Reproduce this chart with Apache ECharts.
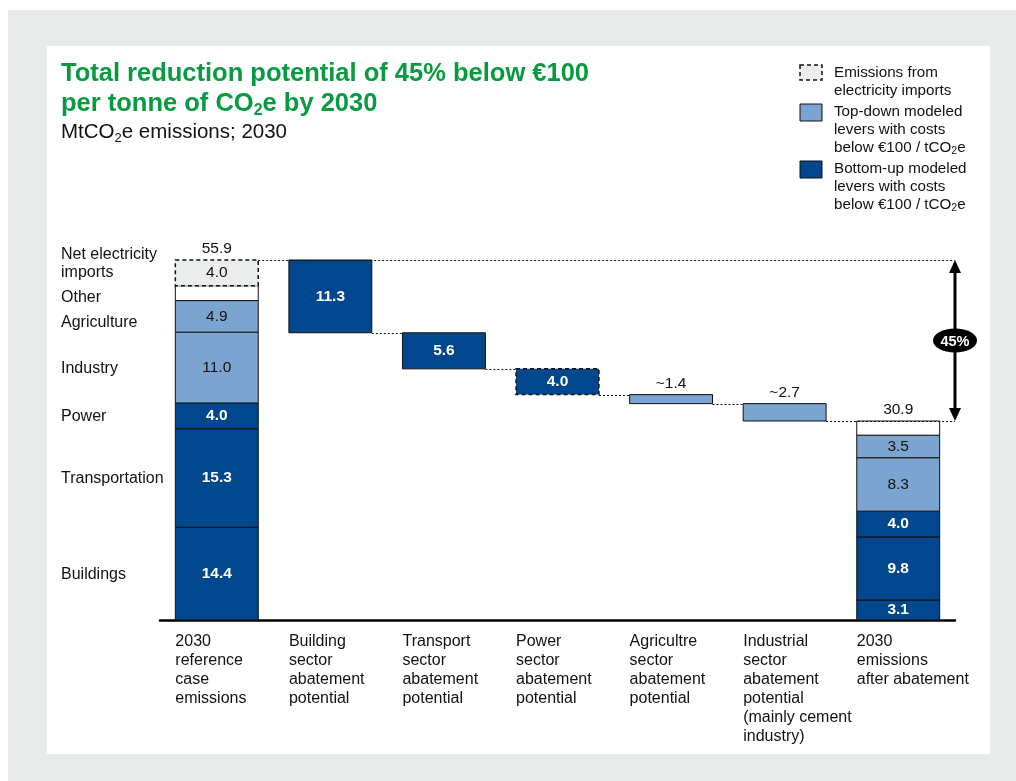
<!DOCTYPE html>
<html><head><meta charset="utf-8">
<script src="https://cdn.jsdelivr.net/npm/echarts@6/dist/echarts.min.js"></script>
<style>html,body{margin:0;padding:0;background:#fff;}#chart{width:1016px;height:781px;}</style>
</head><body><div id="chart"></div>
<script>
// ---------- DATA ----------
const categories = [
  '2030\nreference\ncase\nemissions',
  'Building\nsector\nabatement\npotential',
  'Transport\nsector\nabatement\npotential',
  'Power\nsector\nabatement\npotential',
  'Agricultre\nsector\nabatement\npotential',
  'Industrial\nsector\nabatement\npotential\n(mainly cement\nindustry)',
  '2030\nemissions\nafter abatement'
];
const sectorNames = ['Buildings', 'Transportation', 'Power', 'Industry', 'Agriculture', 'Other', 'Net electricity\nimports'];
const refValues = [14.4, 15.3, 4.0, 11.0, 4.9, 2.3, 4.0];
const refLabels = ['14.4', '15.3', '4.0', '11.0', '4.9', '', '4.0'];
const refKinds = ['bottomUp', 'bottomUp', 'bottomUp', 'topDown', 'topDown', 'other', 'imports'];
const refTotal = 55.9;
const abateValues = [11.3, 5.6, 4.0, 1.4, 2.7];
const abateLabels = ['11.3', '5.6', '4.0', '~1.4', '~2.7'];
const abateKinds = ['bottomUp', 'bottomUp', 'importsAbated', 'topDown', 'topDown'];
const finalValues = [3.1, 9.8, 4.0, 8.3, 3.5, 2.2];
const finalLabels = ['3.1', '9.8', '4.0', '8.3', '3.5', ''];
const finalKinds = ['bottomUp', 'bottomUp', 'bottomUp', 'topDown', 'topDown', 'other'];
const finalTotal = 30.9;
const reductionLabel = '45%';
const legendNames = ['Emissions from\nelectricity imports', 'Top-down modeled\nlevers with costs\nbelow €100 / tCO{s|2}e', 'Bottom-up modeled\nlevers with costs\nbelow €100 / tCO{s|2}e'];
const legendKinds = ['imports', 'topDown', 'bottomUp'];

// ---------- STYLE ----------
const FONT = '"Liberation Sans", Arial, sans-serif';
const DARK = '#00478e', LIGHT = '#7ba4d0', GREEN = '#079a3f';
const kindStyle = {
  bottomUp: {fill: DARK, stroke: '#111', dash: null, lw: 1, text: '#fff', weight: 'bold'},
  topDown: {fill: LIGHT, stroke: '#111', dash: null, lw: 1, text: '#111', weight: 'normal'},
  other: {fill: '#fff', stroke: '#111', dash: null, lw: 1, text: '#111', weight: 'normal'},
  imports: {fill: '#ebecec', stroke: '#111', dash: [4, 3], lw: 1.5, text: '#111', weight: 'normal'},
  importsAbated: {fill: DARK, stroke: '#111', dash: [4, 3], lw: 1.5, text: '#fff', weight: 'bold'}
};
const sectorLabelNudge = [1, 1, 1, 1, 6, 4, -9];
const BAR_RATIO = 0.73;

// ---------- BUILD MARKS ----------
const bars = [];
let acc = 0;
refValues.forEach((v, i) => { bars.push({cat: 0, low: acc, high: acc + v, kind: refKinds[i], label: refLabels[i]}); acc += v; });
let level = refTotal;
const connectors = [{from: 0, to: 'end', y: refTotal}];
abateValues.forEach((v, i) => {
  bars.push({cat: i + 1, low: level - v, high: level, kind: abateKinds[i], label: abateLabels[i]});
  level -= v;
  if (i < abateValues.length - 1) connectors.push({from: i + 1, to: i + 2, y: level});
});
connectors.push({from: abateValues.length, to: 'end', y: finalTotal});
acc = 0;
const lastCat = categories.length - 1;
finalValues.forEach((v, i) => { bars.push({cat: lastCat, low: acc, high: acc + v, kind: finalKinds[i], label: finalLabels[i]}); acc += v; });
const totals = [{cat: 0, value: refTotal}, {cat: lastCat, value: finalTotal}];

const sectorMarks = [];
acc = 0;
refValues.forEach((v, i) => { sectorMarks.push({name: sectorNames[i], y: acc + v / 2, nudge: sectorLabelNudge[i]}); acc += v; });

function barWidth(api) { return api.size([1, 0])[0] * BAR_RATIO; }

const option = {
  backgroundColor: '#fff',
  animation: false,
  grid: {left: 160, right: 61, top: 620 - 60 * 360 / 55.9, bottom: 161, outerBoundsMode: 'none'},
  xAxis: {
    type: 'category', data: categories,
    axisLine: {lineStyle: {color: '#000', width: 2.5}},
    axisTick: {show: false}, axisLabel: {show: false}, splitLine: {show: false}
  },
  yAxis: {type: 'value', min: 0, max: 60, show: false, splitLine: {show: false}},
  graphic: [
    {type: 'rect', z: -10, shape: {x: 8, y: 10, width: 1008, height: 771}, style: {fill: '#e9eaea'}},
    {type: 'rect', z: -9, shape: {x: 47, y: 46, width: 943, height: 708}, style: {fill: '#fff'}},
    {type: 'text', left: 61, top: 59, style: {
      text: 'Total reduction potential of 45% below €100\nper tonne of CO{s|2}e by 2030',
      fontFamily: FONT, fontSize: 25.5, fontWeight: 'bold', fill: GREEN, lineHeight: 30,
      rich: {s: {fontFamily: FONT, fontSize: 16, fontWeight: 'bold', fill: GREEN, lineHeight: 16, verticalAlign: 'bottom'}}
    }},
    {type: 'text', left: 61, top: 120, style: {
      text: 'MtCO{s|2}e emissions; 2030',
      fontFamily: FONT, fontSize: 20.5, fill: '#111', lineHeight: 25,
      rich: {s: {fontFamily: FONT, fontSize: 13, fill: '#111', lineHeight: 13, verticalAlign: 'bottom'}}
    }}
  ].concat(legendNames.flatMap((name, i) => {
    const st = kindStyle[legendKinds[i]];
    const ys = [65, 104, 161];
    return [
      {type: 'rect', shape: {x: 800, y: ys[i], width: 22, height: i === 0 ? 15 : 17},
        style: {fill: st.fill, stroke: '#111', lineWidth: i === 0 ? 1.5 : 1, lineDash: st.dash}},
      {type: 'text', left: 834, top: ys[i] - 1, style: {
        text: name, fontFamily: FONT, fontSize: 15.2, fill: '#111', lineHeight: 18,
        rich: {s: {fontFamily: FONT, fontSize: 10.5, fill: '#111', lineHeight: 13, verticalAlign: 'bottom'}}
      }}
    ];
  })),
  series: [
    {
      type: 'custom', name: 'bars', clip: false,
      encode: {x: 0, y: [1, 2]},
      data: bars.map(b => [b.cat, b.low, b.high]),
      renderItem: function (params, api) {
        const b = bars[params.dataIndex];
        const w = barWidth(api);
        const p0 = api.coord([b.cat, b.high]);
        const p1 = api.coord([b.cat, b.low]);
        const st = kindStyle[b.kind];
        const h = p1[1] - p0[1];
        const children = [{type: 'rect', shape: {x: p0[0] - w / 2, y: p0[1], width: w, height: h},
          style: {fill: st.fill, stroke: st.stroke, lineWidth: st.lw, lineDash: st.dash}}];
        if (b.label) {
          const inside = h >= 19;
          children.push({type: 'text', style: {
            text: b.label, x: p0[0], y: inside ? p0[1] + h / 2 : p0[1] - 3,
            align: 'center', verticalAlign: inside ? 'middle' : 'bottom',
            fill: inside ? st.text : '#111', fontWeight: inside ? st.weight : 'normal',
            fontFamily: FONT, fontSize: 15.5
          }});
        }
        return {type: 'group', children: children};
      }
    },
    {
      type: 'custom', name: 'connectors', clip: false, z: 3,
      encode: {x: 0, y: 1},
      data: connectors.map(c => [c.from, c.y]),
      renderItem: function (params, api) {
        const c = connectors[params.dataIndex];
        const w = barWidth(api);
        const band = api.size([1, 0])[0];
        const p = api.coord([c.from, c.y]);
        const x2 = c.to === 'end' ? api.coord([lastCat, c.y])[0] + band / 2 : api.coord([c.to, c.y])[0] - w / 2;
        const y = Math.round(p[1]) + 0.5;
        return {type: 'line', shape: {x1: p[0] + w / 2, y1: y, x2: x2, y2: y},
          style: {stroke: '#111', lineWidth: 1, lineDash: [2, 2]}};
      }
    },
    {
      type: 'custom', name: 'totals', clip: false,
      encode: {x: 0, y: 1},
      data: totals.map(t => [t.cat, t.value]),
      renderItem: function (params, api) {
        const t = totals[params.dataIndex];
        const p = api.coord([t.cat, t.value]);
        return {type: 'text', style: {text: t.value.toFixed(1), x: p[0], y: p[1] - 3, align: 'center', verticalAlign: 'bottom',
          fontFamily: FONT, fontSize: 15.5, fill: '#111'}};
      }
    },
    {
      type: 'custom', name: 'sectors', clip: false,
      encode: {x: 0, y: 1},
      data: sectorMarks.map(s => [0, s.y]),
      renderItem: function (params, api) {
        const s = sectorMarks[params.dataIndex];
        const p = api.coord([0, s.y]);
        return {type: 'text', style: {text: s.name, x: 61, y: p[1] + s.nudge, align: 'left', verticalAlign: 'middle',
          fontFamily: FONT, fontSize: 16, lineHeight: 18, fill: '#111'}};
      }
    },
    {
      type: 'custom', name: 'xlabels', clip: false,
      encode: {x: 0, y: 1},
      data: categories.map((c, i) => [i, 0]),
      renderItem: function (params, api) {
        const w = barWidth(api);
        const p = api.coord([params.dataIndex, 0]);
        return {type: 'text', style: {text: categories[params.dataIndex], x: p[0] - w / 2, y: p[1] + 12,
          align: 'left', verticalAlign: 'top', fontFamily: FONT, fontSize: 16, lineHeight: 19, fill: '#111'}};
      }
    },
    {
      type: 'custom', name: 'reduction', clip: false,
      encode: {x: 0, y: [1, 2]},
      data: [[lastCat, finalTotal, refTotal]],
      renderItem: function (params, api) {
        const band = api.size([1, 0])[0];
        const pt = api.coord([lastCat, refTotal]);
        const pb = api.coord([lastCat, finalTotal]);
        const x = pt[0] + band / 2;
        const yt = pt[1], yb = pb[1], ym = (yt + yb) / 2;
        return {type: 'group', children: [
          {type: 'line', shape: {x1: x, y1: yt + 10, x2: x, y2: yb - 10}, style: {stroke: '#000', lineWidth: 3}},
          {type: 'polygon', shape: {points: [[x, yt], [x - 6, yt + 13], [x + 6, yt + 13]]}, style: {fill: '#000'}},
          {type: 'polygon', shape: {points: [[x, yb], [x - 6, yb - 13], [x + 6, yb - 13]]}, style: {fill: '#000'}},
          {type: 'ellipse', shape: {cx: x, cy: ym, rx: 22, ry: 12}, style: {fill: '#000'}},
          {type: 'text', style: {text: reductionLabel, x: x, y: ym + 1, align: 'center', verticalAlign: 'middle',
            fontFamily: FONT, fontSize: 14.5, fontWeight: 'bold', fill: '#fff'}}
        ]};
      }
    }
  ]
};
const chart = echarts.init(document.getElementById('chart'), null, {renderer: 'canvas'});
chart.setOption(option);
</script>
</body></html>
